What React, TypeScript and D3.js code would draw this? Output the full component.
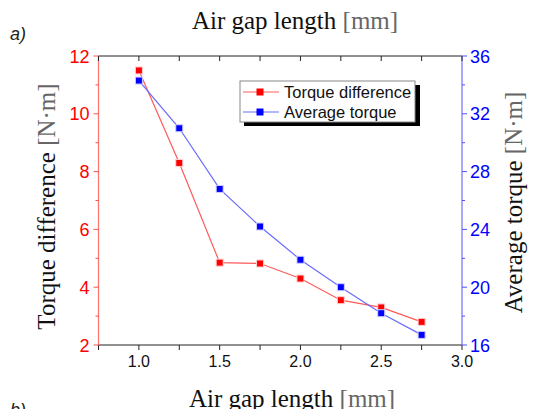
import React from "react";
import * as d3 from "d3";

const airGap = [1.0, 1.25, 1.5, 1.75, 2.0, 2.25, 2.5, 2.75];
const torqueDiff = [11.5, 8.3, 4.85, 4.82, 4.3, 3.55, 3.3, 2.8];
const avgTorque = [34.3, 31.0, 26.8, 24.2, 21.9, 20.0, 18.2, 16.7];
const xTicks = [1.0, 1.5, 2.0, 2.5, 3.0];
const xMinor = [0.75, 1.25, 1.75, 2.25, 2.75];
const leftTicks = [2, 4, 6, 8, 10, 12];
const leftMinor = [3, 5, 7, 9, 11];
const rightTicks = [16, 20, 24, 28, 32, 36];
const rightMinor = [18, 22, 26, 30, 34];

export default function App() {
  const W = 538, H = 409;
  const L = 98.5, R = 462, T = 56, B = 345;
  const x = d3.scaleLinear().domain([0.75, 3.0]).range([L, R]);
  const yL = d3.scaleLinear().domain([2, 12]).range([B, T]);
  const yR = d3.scaleLinear().domain([16, 36]).range([B, T]);
  const lineL = d3.line<number>().x((_, i) => x(airGap[i])).y((d) => yL(d));
  const lineR = d3.line<number>().x((_, i) => x(airGap[i])).y((d) => yR(d));
  const serif = "'Liberation Serif', 'Times New Roman', serif";
  const sans = "'Liberation Sans', Arial, sans-serif";
  const ms = 7;
  const red = "#ff0000", blue = "#0000ff";
  return (
    <svg width={W} height={H} style={{ position: "absolute", left: 0, top: 0, background: "#fff" }}>
      <text x={10} y={40} fontFamily={sans} fontStyle="italic" fontSize={18} fill="#222">a)</text>
      <text x={295} y={29} textAnchor="middle" fontFamily={serif} fontSize={25} fill="#111">
        Air gap length <tspan fill="#666">[mm]</tspan>
      </text>
      {/* frame */}
      <line x1={L} x2={R} y1={T} y2={T} stroke="#222" strokeWidth={1} />
      <line x1={L} x2={R} y1={B} y2={B} stroke="#222" strokeWidth={1.2} />
      <line x1={L} x2={L} y1={T} y2={B} stroke="#ff7070" strokeWidth={1.2} />
      <line x1={R} x2={R} y1={T} y2={B} stroke="#7070ff" strokeWidth={1.2} />
      {/* x ticks */}
      {[...xTicks, ...xMinor].map((t) => (
        <g key={"xt" + t}>
          <line x1={x(t)} x2={x(t)} y1={B} y2={B + 5} stroke="#222" />
          <line x1={x(t)} x2={x(t)} y1={T} y2={T + 5} stroke="#222" />
        </g>
      ))}
      {xTicks.map((t) => (
        <text key={"xl" + t} x={x(t)} y={B + 22} textAnchor="middle" fontFamily={sans} fontSize={16} fill="#111">
          {t.toFixed(1)}
        </text>
      ))}
      {/* left ticks */}
      {leftTicks.map((t) => (
        <g key={"lt" + t}>
          <line x1={L - 5} x2={L} y1={yL(t)} y2={yL(t)} stroke="#ff5050" />
          <text x={L - 9} y={yL(t) + 6.5} textAnchor="end" fontFamily={sans} fontSize={18} fill={red}>{t}</text>
        </g>
      ))}
      {leftMinor.map((t) => (
        <line key={"lm" + t} x1={L - 3} x2={L} y1={yL(t)} y2={yL(t)} stroke="#ff5050" />
      ))}
      {/* right ticks */}
      {rightTicks.map((t) => (
        <g key={"rt" + t}>
          <line x1={R} x2={R + 5} y1={yR(t)} y2={yR(t)} stroke="#5050ff" />
          <text x={R + 8} y={yR(t) + 6.5} textAnchor="start" fontFamily={sans} fontSize={18} fill={blue}>{t}</text>
        </g>
      ))}
      {rightMinor.map((t) => (
        <line key={"rm" + t} x1={R} x2={R + 3} y1={yR(t)} y2={yR(t)} stroke="#5050ff" />
      ))}
      {/* axis titles */}
      <text transform={`translate(55,${(T + B) / 2 + 6}) rotate(-90)`} textAnchor="middle" fontFamily={serif} fontSize={25} fill="#111">
        Torque difference <tspan fill="#666">[N·m]</tspan>
      </text>
      <text transform={`translate(522,${(T + B) / 2 + 2}) rotate(-90)`} textAnchor="middle" fontFamily={serif} fontSize={25} fill="#111">
        Average torque <tspan fill="#666">[N·m]</tspan>
      </text>
      <text x={292} y={407} textAnchor="middle" fontFamily={serif} fontSize={25} fill="#111">
        Air gap length <tspan fill="#666">[mm]</tspan>
      </text>
      <text x={10} y={416} fontFamily={sans} fontStyle="italic" fontSize={18} fill="#222">b)</text>
      {/* lines */}
      <path d={lineL(torqueDiff) || ""} fill="none" stroke="#ff5a5a" strokeWidth={1.2} />
      <path d={lineR(avgTorque) || ""} fill="none" stroke="#6a6aff" strokeWidth={1.2} />
      {torqueDiff.map((v, i) => (
        <rect key={"r" + i} x={x(airGap[i]) - ms / 2} y={yL(v) - ms / 2} width={ms} height={ms} fill={red} stroke="#ffd0d0" strokeWidth={1} />
      ))}
      {avgTorque.map((v, i) => (
        <rect key={"b" + i} x={x(airGap[i]) - ms / 2} y={yR(v) - ms / 2} width={ms} height={ms} fill={blue} stroke="#d0d0ff" strokeWidth={1} />
      ))}
      {/* legend */}
      <rect x={244} y={85} width={176} height={41} fill="#000" />
      <rect x={240} y={81} width={175} height={41} fill="#fff" stroke="#888" strokeWidth={1} />
      <line x1={243} x2={279} y1={92} y2={92} stroke="#ff5a5a" strokeWidth={1.2} />
      <rect x={260 - ms / 2} y={92 - ms / 2} width={ms} height={ms} fill={red} />
      <text x={284} y={97.5} fontFamily={sans} fontSize={16.5} fill="#111">Torque difference</text>
      <line x1={243} x2={279} y1={112} y2={112} stroke="#6a6aff" strokeWidth={1.2} />
      <rect x={260 - ms / 2} y={112 - ms / 2} width={ms} height={ms} fill={blue} />
      <text x={284} y={117.5} fontFamily={sans} fontSize={16.5} fill="#111">Average torque</text>
    </svg>
  );
}
